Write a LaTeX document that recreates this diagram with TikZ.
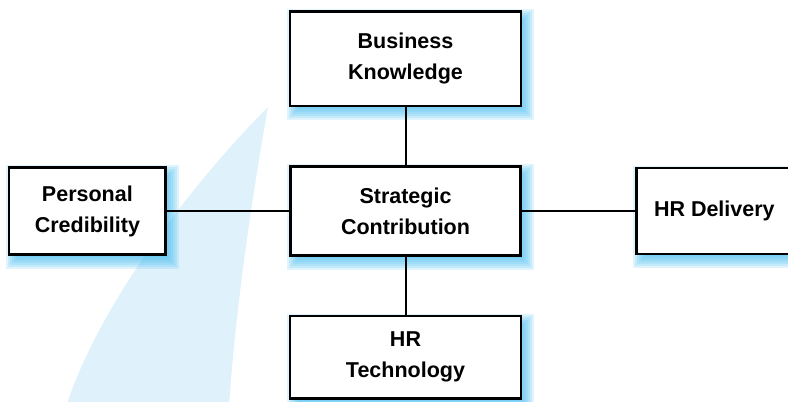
\documentclass[tikz,border=0pt]{standalone}
\usepackage{fontspec}
\setmainfont{Liberation Sans}
\usepackage{tikz}
\usepackage{xcolor}
\usetikzlibrary{positioning, calc, backgrounds}
\definecolor{sail}{HTML}{DFF1FB}
\definecolor{glowblue}{HTML}{4FC0F0}
\tikzstyle{skill} = [rectangle, minimum width=231bp, minimum height=89bp, text centered, align=center, draw=black, fill=white, line width=2.6bp, font=\fontsize{21.5bp}{31bp}\selectfont\bfseries]
\tikzstyle{line} = [line width=2bp]
\newcommand{\glowbox}[1]{%
  \foreach \d in {-7,-5,...,7}
    \fill[glowblue, fill opacity=0.18] ($(#1.south west)+({5+\d},{-6+\d})$) rectangle ($(#1.north east)+({5-\d},{-6-\d})$);
}

\begin{document}
\begin{tikzpicture}[x=1bp, y=1bp]
    \useasboundingbox (0,0) rectangle (788,401);
    \clip (0,0) rectangle (788,401);

    \node (strat) [skill, minimum width=230.5bp] at (405.5,190) {Strategic\\Contribution};
    \node (biz) [skill, minimum height=94.5bp, above=58bp of strat] {Business\\Knowledge};
    \node (tech) [skill, minimum height=82.5bp, below=58bp of strat] {HR\\Technology};
    \node (cred) [skill, minimum width=156.5bp, minimum height=87.5bp, left=122bp of strat] {Personal\\Credibility};
    \node (deliv) [skill, minimum width=156bp, minimum height=86bp, right=113bp of strat] {HR Delivery};

    \begin{scope}[on background layer]
        \fill[sail] (268,294) .. controls (200,226) and (100,101) .. (66,-6) -- (229,-6)
            .. controls (236,101) and (255,221) .. (268,294) -- cycle;
        \glowbox{strat}
        \glowbox{biz}
        \glowbox{tech}
        \glowbox{cred}
        \glowbox{deliv}
    \end{scope}

    \draw[line] (biz)--(strat);
    \draw[line] (strat)--(tech);
    \draw[line] (cred)--(strat);
    \draw[line] (strat)--(deliv);
%    \draw [line] (cred.east)--(deliv.west);

\end{tikzpicture}
\end{document}
